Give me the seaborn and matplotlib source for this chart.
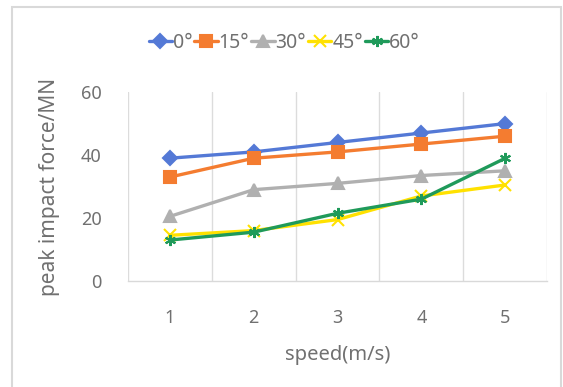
"""Peak impact force vs speed for several angles."""

import matplotlib.pyplot as plt
import numpy as np
import pandas as pd
import seaborn as sns
from matplotlib.patches import Rectangle

speed = [1, 2, 3, 4, 5]
angles = ['0°', '15°', '30°', '45°', '60°']
force_0 = [39, 41, 44, 47, 50]
force_15 = [33, 39, 41, 43.5, 46]
force_30 = [20.5, 29, 31, 33.5, 35]
force_45 = [14.5, 16, 19.5, 27, 30.5]
force_60 = [13, 15.5, 21.5, 26, 39]

colors = ['#5479D6', '#F47C30', '#B0B0B0', '#FFE100', '#1F9A5A']
markers = ['D', 's', '^', 'x', (6, 2, 0)]
msizes = [7, 9, 8, 8, 8]

df = pd.DataFrame({
    'speed': speed * 5,
    'force': force_0 + force_15 + force_30 + force_45 + force_60,
    'angle': np.repeat(angles, len(speed)),
})

sns.set_theme(style='white')
plt.rcParams['font.family'] = ['Noto Sans', 'DejaVu Sans']

fig = plt.figure(figsize=(5.63, 3.87), dpi=100)
ax = fig.add_axes([0.227, 0.274, 0.745, 0.488])

for i, a in enumerate(angles):
    sub = df[df['angle'] == a]
    sns.lineplot(data=sub, x='speed', y='force', ax=ax, color=colors[i],
                 marker=markers[i], markersize=msizes[i], linewidth=2.4,
                 markeredgecolor=colors[i], markeredgewidth=1.5, label=a)

ax.set_xlim(0.5, 5.5)
ax.set_ylim(0, 60)
ax.set_xticks(speed)
ax.set_xticks(np.arange(0.5, 6, 1), minor=True)
ax.set_yticks([0, 20, 40, 60])
ax.grid(which='minor', axis='x', color='#DCDCDC', linewidth=1)
ax.grid(which='major', axis='both', visible=False)
ax.tick_params(axis='both', which='both', length=0, labelsize=13,
               colors='#707070')
ax.tick_params(axis='x', pad=20)
ax.tick_params(axis='y', pad=19)
for s in ['top', 'right', 'left']:
    ax.spines[s].set_visible(False)
ax.spines['bottom'].set_color('#D9D9D9')
ax.spines['bottom'].set_linewidth(1)

ax.set_xlabel('speed(m/s)', fontsize=14.5, color='#707070', labelpad=13)
ax.set_ylabel('peak impact force/MN', fontsize=15, color='#707070',
              labelpad=15)

ax.legend_.remove()
handles, labels = ax.get_legend_handles_labels()
fig.legend(handles, labels, loc='center', bbox_to_anchor=(0.505, 0.89),
           ncol=5, frameon=False, fontsize=14, handlelength=1.2,
           handletextpad=0.05, columnspacing=0.1, labelcolor='#707070',
           borderaxespad=0)

# outer chart border
fig.patches.append(Rectangle((12 / 563, -0.02), 549 / 563, 1 - 7 / 387 + 0.02,
                             transform=fig.transFigure, fill=False,
                             edgecolor='#D9D9D9', linewidth=1.5))

fig.savefig('out.png', dpi=100)
